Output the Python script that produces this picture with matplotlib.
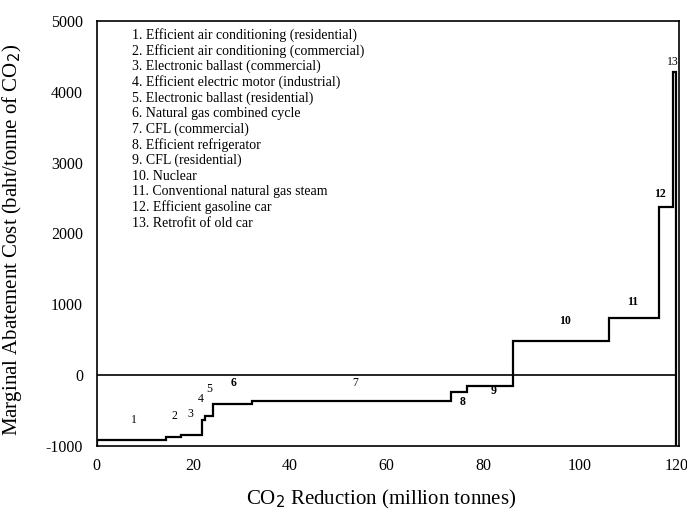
import matplotlib.pyplot as plt
import numpy as np

plt.rcParams['font.family'] = ['Liberation Serif', 'DejaVu Serif']
plt.rcParams['axes.unicode_minus'] = False

# step edges (cumulative CO2 reduction, million tonnes) and cost of each option
edges = [0, 14.3, 17.5, 21.7, 22.4, 24.1, 32.2, 73.4, 76.7, 86.2, 106.1, 116.4, 119.3, 120.0]
costs = [-920, -876, -847, -635, -580, -414, -363, -236, -155, 480, 800, 2377, 4284]

# number labels placed on the curve
lab_num = ['1', '2', '3', '4', '5', '6', '7', '8', '9', '10', '11', '12', '13']
lab_x = [7.7, 16.1, 19.3, 21.5, 23.2, 28.4, 53.5, 75.8, 82.2, 96.9, 111.0, 116.7, 119.3]
lab_y = [-635, -580, -550, -340, -200, -110, -110, -377, -222, 767, 1035, 2565, 4425]

options = [
    '1. Efficient air conditioning (residential)',
    '2. Efficient air conditioning (commercial)',
    '3. Electronic ballast (commercial)',
    '4. Efficient electric motor (industrial)',
    '5. Electronic ballast (residential)',
    '6. Natural gas combined cycle',
    '7. CFL (commercial)',
    '8. Efficient refrigerator',
    '9. CFL (residential)',
    '10. Nuclear',
    '11. Conventional natural gas steam',
    '12. Efficient gasoline car',
    '13. Retrofit of old car',
]

fig = plt.figure(figsize=(6.87, 5.16), dpi=100)
ax = fig.add_axes([0.141, 0.136, 0.847, 0.823])

ax.stairs(costs, edges, baseline=-1000, color='black', lw=1.6)
ax.axhline(0, color='black', lw=1.2, xmax=0.995)

for n, x, y in zip(lab_num, lab_x, lab_y):
    bold = n in ('6', '8', '9', '10', '11', '12')
    ax.text(x, y, n, ha='center', va='center', fontsize=8.5,
            fontweight='bold' if bold else 'normal')

for i, s in enumerate(options):
    ax.text(0.06, 0.967 - i * 0.0369, s, transform=ax.transAxes,
            ha='left', va='center', fontsize=10)

ax.set_xlim(0, 120.5)
ax.set_ylim(-1000, 5000)
ax.set_xticks([0, 20, 40, 60, 80, 100, 120])
ax.set_yticks([-1000, 0, 1000, 2000, 3000, 4000, 5000])
ax.tick_params(direction='in', length=0, labelsize=11.5)
ax.tick_params(axis='y', pad=10)
ax.tick_params(axis='x', pad=9)
for sp in ax.spines.values():
    sp.set_linewidth(1.2)

ax.set_xlabel('CO$_2$ Reduction (million tonnes)', fontsize=15)
ax.set_ylabel('Marginal Abatement Cost (baht/tonne of CO$_2$)', fontsize=15)
ax.xaxis.set_label_coords(0.488, -0.1)
ax.yaxis.set_label_coords(-0.125, 0.485)

fig.savefig('out.png', dpi=100)
